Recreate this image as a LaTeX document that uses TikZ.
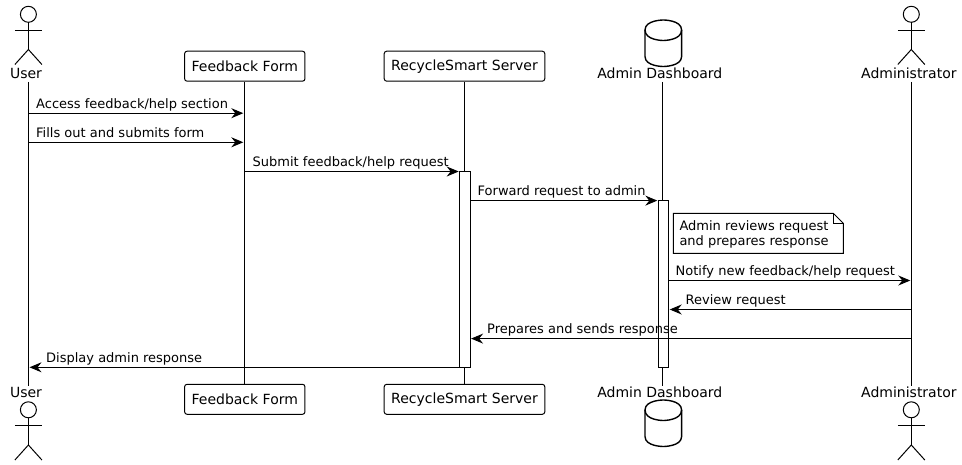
\documentclass[tikz,border=0pt]{standalone}
\usepackage{fontspec}
\setmainfont{DejaVu Sans}
\usetikzlibrary{arrows.meta}

\tikzset{
    lifeline/.style={black, line width=1pt},
    msg/.style={line width=1pt, shorten >=1pt, -{Stealth[length=12pt, width=10pt, inset=4pt]}},
    msgtext/.style={anchor=base west, inner sep=0pt, font=\fontsize{13}{15}\selectfont},
    nametext/.style={anchor=base, inner sep=0pt, font=\fontsize{14}{16}\selectfont},
    partbox/.style={draw, fill=white, line width=1pt, rounded corners=2.5pt, minimum height=30pt, inner xsep=7pt, inner ysep=0pt, font=\fontsize{14}{16}\selectfont},
    actbar/.style={draw, fill=white, line width=1pt, minimum width=10.4pt, inner sep=0pt, outer sep=0pt},
    notebox/.style={inner sep=0pt, outer sep=0pt, minimum width=170pt, minimum height=40pt},
    notetext/.style={inner sep=0pt, align=left, font=\fontsize{13}{15}\selectfont},
    stick/.style={line width=1pt},
    barrel/.style={line width=1.4pt}
}

\begin{document}
\begin{tikzpicture}[x=1pt, y=-1pt]
    \useasboundingbox (0,0) rectangle (962,465);

    % Lifelines
    \foreach \who/\xpos in {user/28.5, form/244.3, server/464.3, dash/662.3, admin/911.3} {
        \coordinate (\who-top) at (\xpos,82);
        \coordinate (\who-bot) at (\xpos,385.6);
        \draw[lifeline] (\who-top) -- (\who-bot);
    }

    % Participant boxes, top and bottom row
    \foreach \rowname/\ypos in {top/66.2, bot/399.3} {
        \node[partbox] (formbox\rowname) at (244.8,\ypos) {Feedback Form};
        \node[partbox] (serverbox\rowname) at (464.5,\ypos) {RecycleSmart Server};
    }

    % Actors and database, one set above and one set below
    \foreach \rowname/\dy/\ybase in {top/0/79, bot/395.5/397.7} {
        \foreach \who/\xpos/\txt in {user/28.4/User, admin/911.3/Administrator} {
            \node[nametext] (\who name\rowname) at (\xpos-2.4,\ybase) {\txt};
            \draw[stick] (\xpos,14.3+\dy) circle (8pt);
            \draw[stick] (\xpos,22.3+\dy) -- (\xpos,49.5+\dy);
            \draw[stick] (\xpos-13.5,30.4+\dy) -- (\xpos+13.5,30.4+\dy);
            \draw[stick] (\xpos-13.5,64.5+\dy) -- (\xpos,49.5+\dy) -- (\xpos+13.5,64.5+\dy);
        }
        \node[nametext] (dashname\rowname) at (659.8,\ybase) {Admin Dashboard};
    }
    \foreach \dy in {0,380} {
        \draw[barrel] (645,30+\dy) .. controls (645,20+\dy) and (663.3,20+\dy) .. (663.3,20+\dy)
            .. controls (663.3,20+\dy) and (681.6,20+\dy) .. (681.6,30+\dy) -- (681.6,56.5+\dy)
            .. controls (681.6,66.5+\dy) and (663.3,66.5+\dy) .. (663.3,66.5+\dy)
            .. controls (663.3,66.5+\dy) and (645,66.5+\dy) .. (645,56.5+\dy) -- cycle;
        \draw[barrel] (645,30+\dy) .. controls (645,40.5+\dy) and (663.3,40.5+\dy) .. (663.3,40.5+\dy)
            .. controls (663.3,40.5+\dy) and (681.6,40.5+\dy) .. (681.6,30+\dy);
    }

    % Activation bars
    \node[actbar, minimum height=196pt] (serverbar) at (464.9,269.3) {};
    \node[actbar, minimum height=167pt] (dashbar) at (663.5,283.8) {};

    % Note with folded corner
    \node[notebox, anchor=north west] (reviewnote) at (673.3,213.3) {};
    \node[notetext, anchor=west] (reviewtext) at (679.3,234.8) {Admin reviews request\\and prepares response};
    \draw[line width=1pt] (reviewnote.north west) -- ([xshift=-10pt]reviewnote.north east) -- ([yshift=-10pt]reviewnote.north east)
        -- (reviewnote.south east) -- (reviewnote.south west) -- cycle;
    \draw[line width=1pt] ([xshift=-10pt]reviewnote.north east) -- ([xshift=-10pt, yshift=-10pt]reviewnote.north east) -- ([yshift=-10pt]reviewnote.north east);

    % Messages: from / to / height / text start / text
    \foreach \from/\goal/\ypos/\xtext/\txt in {
        user-top/form-top/113.2/36/{Access feedback/help section},
        user-top/form-top/142.3/36/{Fills out and submits form},
        form-top/serverbar.west/171.5/252.5/{Submit feedback/help request},
        serverbar.east/dashbar.west/200.6/477.5/{Forward request to admin},
        dashbar.east/admin-top/280.5/675.5/{Notify new feedback/help request},
        admin-top/dashbar.east/309.5/685.5/{Review request},
        admin-top/serverbar.east/338.6/487/{Prepares and sends response},
        serverbar.west/user-top/367.3/46/{Display admin response}%
    } {
        \draw[msg] (\from |- 0,\ypos) -- (\goal |- 0,\ypos);
        \node[msgtext] at (\xtext,\ypos-5) {\txt};
    }
\end{tikzpicture}
\end{document}
